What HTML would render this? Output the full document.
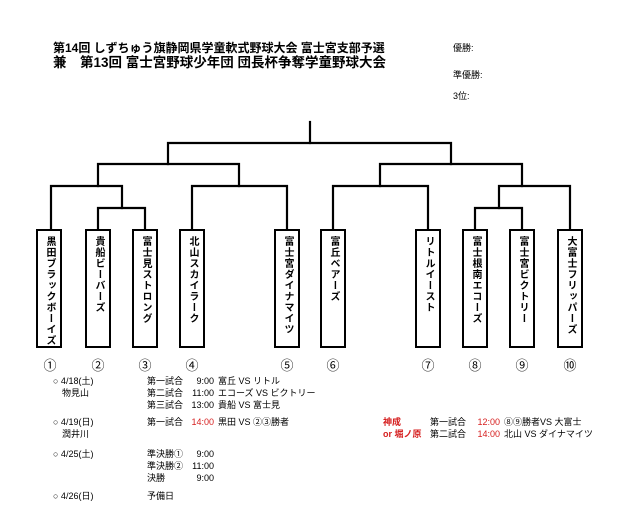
<!DOCTYPE html>
<html><head><meta charset="utf-8"><style>
html,body{margin:0;padding:0;background:#fff;}
body{width:640px;height:529px;position:relative;overflow:hidden;font-family:"Liberation Sans","Noto Sans CJK JP",sans-serif;color:#000;}
.t{position:absolute;white-space:pre;line-height:1;}
.box{position:absolute;top:229px;width:22px;height:115px;border:2px solid #000;background:#fff;overflow:hidden;}
.box span{position:absolute;left:0;top:5px;width:22px;height:112px;writing-mode:vertical-rl;text-orientation:upright;font-size:10px;font-weight:bold;line-height:22px;letter-spacing:1px;white-space:nowrap;}
.n{position:absolute;top:355px;width:30px;text-align:center;font-size:13px;}
.s{position:absolute;font-size:9px;white-space:pre;line-height:1;}
.tm{position:absolute;font-size:9px;white-space:pre;line-height:1;width:24px;text-align:right;}
.r{color:#d62020;}
</style></head><body>
<div class="t" style="left:53px;top:42px;font-size:12px;font-weight:bold;">第14回 しずちゅう旗静岡県学童軟式野球大会 富士宮支部予選</div>
<div class="t" style="left:53px;top:56px;font-size:13.5px;font-weight:bold;">兼　第13回 富士宮野球少年団 団長杯争奪学童野球大会</div>
<div class="t" style="left:453px;top:44px;font-size:9px;">優勝:</div>
<div class="t" style="left:453px;top:71px;font-size:9px;">準優勝:</div>
<div class="t" style="left:453px;top:92px;font-size:9px;">3位:</div>

<svg style="position:absolute;left:0;top:0" width="640" height="529">
<g stroke="#000" stroke-width="2.2" fill="none" stroke-linecap="square">
<path d="M310 122V143"/>
<path d="M168 164V143H451V164"/>
<path d="M98 186V164H239V186"/>
<path d="M380 186V164H522V186"/>
<path d="M51 229V186H122V208"/>
<path d="M192 229V186H287V229"/>
<path d="M333 229V186H428V229"/>
<path d="M499 208V186H570V229"/>
<path d="M98 229V208H145V229"/>
<path d="M475 229V208H522V229"/>
</g></svg>

<div class="box" style="left:36px"><span>黒田ブラックボーイズ</span></div>
<div class="box" style="left:85px"><span>貴船ビーバーズ</span></div>
<div class="box" style="left:132px"><span>富士見ストロング</span></div>
<div class="box" style="left:179px"><span>北山スカイラーク</span></div>
<div class="box" style="left:274px"><span>富士宮ダイナマイツ</span></div>
<div class="box" style="left:320px"><span>富丘ベアーズ</span></div>
<div class="box" style="left:415px"><span>リトルイースト</span></div>
<div class="box" style="left:462px"><span>富士根南エコーズ</span></div>
<div class="box" style="left:509px"><span>富士宮ビクトリー</span></div>
<div class="box" style="left:557px"><span>大富士フリッパーズ</span></div>

<div class="n" style="left:35px">①</div>
<div class="n" style="left:83px">②</div>
<div class="n" style="left:130px">③</div>
<div class="n" style="left:177px">④</div>
<div class="n" style="left:272px">⑤</div>
<div class="n" style="left:318px">⑥</div>
<div class="n" style="left:413px">⑦</div>
<div class="n" style="left:460px">⑧</div>
<div class="n" style="left:507px">⑨</div>
<div class="n" style="left:555px">⑩</div>

<div class="s" style="left:53px;top:377px">○ 4/18(土)</div>
<div class="s" style="left:62px;top:389px">物見山</div>
<div class="s" style="left:147px;top:377px">第一試合</div>
<div class="s" style="left:147px;top:389px">第二試合</div>
<div class="s" style="left:147px;top:401px">第三試合</div>
<div class="tm" style="left:190px;top:377px">9:00</div>
<div class="tm" style="left:190px;top:389px">11:00</div>
<div class="tm" style="left:190px;top:401px">13:00</div>
<div class="s" style="left:218px;top:377px">富丘 VS リトル</div>
<div class="s" style="left:218px;top:389px">エコーズ VS ビクトリー</div>
<div class="s" style="left:218px;top:401px">貴船 VS 富士見</div>

<div class="s" style="left:53px;top:418px">○ 4/19(日)</div>
<div class="s" style="left:62px;top:430px">潤井川</div>
<div class="s" style="left:147px;top:418px">第一試合</div>
<div class="tm r" style="left:190px;top:418px">14:00</div>
<div class="s" style="left:218px;top:418px">黒田 VS ②③勝者</div>

<div class="s r" style="left:383px;top:418px;font-weight:bold">神成</div>
<div class="s r" style="left:383px;top:430px;font-weight:bold">or 堀ノ原</div>
<div class="s" style="left:430px;top:418px">第一試合</div>
<div class="s" style="left:430px;top:430px">第二試合</div>
<div class="tm r" style="left:476px;top:418px">12:00</div>
<div class="tm r" style="left:476px;top:430px">14:00</div>
<div class="s" style="left:504px;top:418px">⑧⑨勝者VS 大富士</div>
<div class="s" style="left:504px;top:430px">北山 VS ダイナマイツ</div>

<div class="s" style="left:53px;top:450px">○ 4/25(土)</div>
<div class="s" style="left:147px;top:450px">準決勝①</div>
<div class="s" style="left:147px;top:462px">準決勝②</div>
<div class="s" style="left:147px;top:474px">決勝</div>
<div class="tm" style="left:190px;top:450px">9:00</div>
<div class="tm" style="left:190px;top:462px">11:00</div>
<div class="tm" style="left:190px;top:474px">9:00</div>

<div class="s" style="left:53px;top:492px">○ 4/26(日)</div>
<div class="s" style="left:147px;top:492px">予備日</div>
</body></html>
